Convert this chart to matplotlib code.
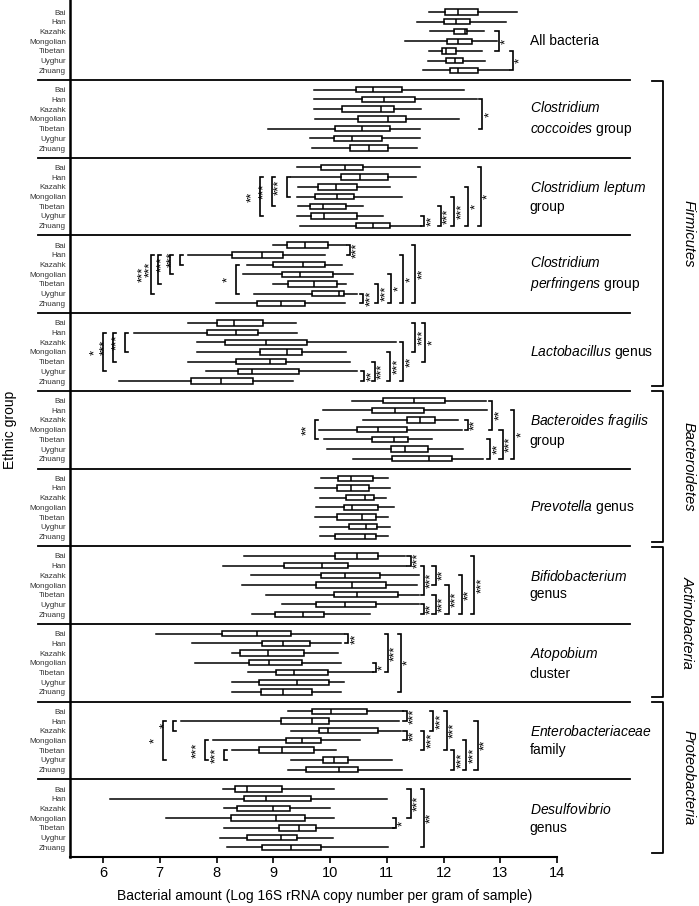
import matplotlib.pyplot as plt

plt.rcParams['font.family'] = 'Liberation Sans'
plt.rcParams['mathtext.fontset'] = 'custom'
plt.rcParams['mathtext.rm'] = 'Liberation Sans'
plt.rcParams['mathtext.it'] = 'Liberation Sans:italic'

ethnic = ['Bai', 'Han', 'Kazahk', 'Mongolian', 'Tibetan', 'Uyghur', 'Zhuang']

# (whisker low, q1, median, q3, whisker high) for each ethnic group
all_bacteria = [(11.74, 12.03, 12.26, 12.60, 13.29), (11.53, 12.00, 12.22, 12.46, 13.11),
                (11.76, 12.18, 12.38, 12.42, 12.72), (11.32, 12.07, 12.26, 12.50, 12.95),
                (11.74, 11.98, 12.04, 12.22, 12.68), (11.72, 12.05, 12.21, 12.34, 12.74),
                (11.64, 12.11, 12.26, 12.60, 13.16)]
c_coccoides = [(9.71, 10.46, 10.75, 11.27, 12.37), (9.71, 10.56, 10.96, 11.49, 12.59),
               (9.72, 10.21, 10.90, 11.13, 11.60), (9.74, 10.50, 11.03, 11.34, 12.28),
               (8.91, 10.09, 10.56, 11.05, 11.59), (9.65, 10.07, 10.38, 10.91, 11.58),
               (9.68, 10.35, 10.69, 11.02, 11.53)]
c_leptum = [(9.42, 9.85, 10.26, 10.58, 11.58), (9.32, 10.19, 10.52, 11.03, 11.52),
            (9.44, 9.78, 10.11, 10.48, 11.06), (9.41, 9.74, 10.13, 10.42, 11.26),
            (9.44, 9.64, 9.88, 10.28, 10.59), (9.42, 9.66, 9.89, 10.48, 10.93),
            (9.47, 10.46, 10.75, 11.05, 11.60)]
c_perfringens = [(9.00, 9.24, 9.56, 9.97, 10.28), (7.50, 8.27, 8.81, 9.18, 9.91),
                 (8.53, 9.00, 9.53, 9.92, 10.21), (8.46, 9.15, 9.48, 10.06, 10.41),
                 (9.00, 9.26, 9.72, 10.12, 10.29), (8.66, 9.68, 10.15, 10.24, 10.47),
                 (7.99, 8.72, 9.14, 9.56, 10.26)]
lactobacillus = [(7.50, 8.01, 8.31, 8.82, 9.40), (6.55, 7.84, 8.34, 8.74, 9.41),
                 (7.66, 8.15, 8.88, 9.60, 11.16), (7.66, 8.76, 9.24, 9.50, 10.28),
                 (7.50, 8.34, 8.94, 9.22, 10.35), (7.82, 8.38, 8.63, 9.46, 10.47),
                 (6.29, 7.55, 8.08, 8.64, 9.34)]
b_fragilis = [(10.39, 10.94, 11.48, 12.03, 12.75), (9.87, 10.74, 11.15, 11.66, 12.76),
              (10.59, 11.36, 11.59, 11.85, 12.25), (9.81, 10.47, 10.84, 11.36, 12.32),
              (9.89, 10.74, 11.13, 11.38, 11.79), (9.94, 11.08, 11.32, 11.72, 12.35),
              (10.41, 11.10, 11.75, 12.15, 12.69)]
prevotella = [(9.85, 10.14, 10.37, 10.75, 11.03), (9.74, 10.12, 10.37, 10.68, 11.05),
              (9.82, 10.28, 10.62, 10.78, 10.99), (9.75, 10.25, 10.39, 10.85, 11.12),
              (9.74, 10.12, 10.56, 10.81, 11.03), (9.82, 10.34, 10.64, 10.82, 11.05),
              (9.82, 10.09, 10.61, 10.81, 11.03)]
bifidobacterium = [(8.49, 10.08, 10.47, 10.85, 11.32), (8.12, 9.19, 9.86, 10.32, 11.34),
                   (8.61, 9.84, 10.26, 10.88, 11.56), (8.45, 9.75, 10.39, 10.98, 11.53),
                   (8.88, 10.07, 10.47, 11.19, 11.56), (9.16, 9.76, 10.26, 10.81, 11.56),
                   (8.63, 9.03, 9.53, 9.90, 10.71)]
atopobium = [(6.94, 8.10, 8.71, 9.31, 10.25), (7.57, 8.81, 9.18, 9.64, 10.19),
             (8.28, 8.41, 8.90, 9.55, 10.14), (7.62, 8.57, 8.93, 9.51, 10.19),
             (8.56, 9.04, 9.36, 9.97, 10.75), (8.28, 8.75, 9.41, 9.99, 10.25),
             (8.28, 8.79, 9.18, 9.69, 10.19)]
enterobacteriaceae = [(9.26, 9.68, 10.02, 10.66, 11.28), (7.38, 9.13, 9.68, 9.99, 11.22),
                      (9.32, 9.81, 9.96, 10.84, 11.25), (7.93, 9.22, 9.50, 9.84, 10.52),
                      (8.28, 8.75, 9.15, 9.72, 10.11), (9.32, 9.88, 10.07, 10.32, 11.09),
                      (9.26, 9.57, 10.15, 10.49, 11.26)]
desulfovibrio = [(8.12, 8.32, 8.54, 9.16, 10.07), (6.12, 8.48, 8.88, 9.66, 11.01),
                 (8.13, 8.36, 9.00, 9.29, 10.00), (7.11, 8.26, 9.05, 9.56, 10.07),
                 (8.13, 9.11, 9.45, 9.76, 11.12), (8.06, 8.53, 9.13, 9.41, 10.05),
                 (8.18, 8.81, 9.31, 9.85, 11.03)]

panel_data = [all_bacteria, c_coccoides, c_leptum, c_perfringens, lactobacillus,
              b_fragilis, prevotella, bifidobacterium, atopobium, enterobacteriaceae,
              desulfovibrio]

panel_labels = [
    'All bacteria',
    '$\\mathit{Clostridium}$\n$\\mathit{coccoides}$ group',
    '$\\mathit{Clostridium}$ $\\mathit{leptum}$\ngroup',
    '$\\mathit{Clostridium}$\n$\\mathit{perfringens}$ group',
    '$\\mathit{Lactobacillus}$ genus',
    '$\\mathit{Bacteroides}$ $\\mathit{fragilis}$\ngroup',
    '$\\mathit{Prevotella}$ genus',
    '$\\mathit{Bifidobacterium}$\ngenus',
    '$\\mathit{Atopobium}$\ncluster',
    '$\\mathit{Enterobacteriaceae}$\nfamily',
    '$\\mathit{Desulfovibrio}$\ngenus',
]

# significance brackets: (first row, last row, x, stars, side)
sig_all = [(3, 5, 12.97, '*', 'r'), (5, 7, 13.22, '*', 'r')]
sig_coccoides = [(2, 5, 12.68, '*', 'r')]
sig_leptum = [(2, 6, 8.76, '**', 'l'), (2, 5, 8.97, '***', 'l'), (2, 4, 9.24, '***', 'l'),
              (6, 7, 11.66, '**', 'r'), (5, 7, 11.95, '***', 'r'), (4, 7, 12.19, '***', 'r'),
              (3, 7, 12.44, '*', 'r'), (1, 7, 12.66, '*', 'r')]
sig_perfringens = [(1, 2, 10.35, '***', 'r'), (2, 6, 6.84, '***', 'l'), (2, 5, 6.97, '***', 'l'),
                   (2, 4, 7.18, '***', 'l'), (2, 3, 7.35, '***', 'l'), (3, 6, 8.35, '*', 'l'),
                   (6, 7, 10.59, '***', 'r'), (5, 7, 10.85, '***', 'r'), (4, 7, 11.08, '*', 'r'),
                   (2, 7, 11.29, '*', 'r'), (1, 7, 11.50, '**', 'r')]
sig_lacto = [(2, 6, 6.00, '*', 'l'), (2, 5, 6.17, '***', 'l'), (2, 4, 6.38, '***', 'l'),
             (1, 4, 11.50, '***', 'r'), (1, 5, 11.68, '*', 'r'), (6, 7, 10.60, '**', 'r'),
             (5, 7, 10.79, '***', 'r'), (4, 7, 11.06, '***', 'r'), (3, 7, 11.29, '**', 'r')]
sig_fragilis = [(1, 4, 12.86, '**', 'r'), (3, 4, 12.43, '**', 'r'), (3, 5, 9.74, '**', 'l'),
                (5, 7, 12.82, '**', 'r'), (4, 7, 13.04, '***', 'r'), (2, 7, 13.25, '*', 'r')]
sig_prevotella = []
sig_bifido = [(1, 2, 11.42, '***', 'r'), (2, 5, 11.65, '***', 'r'), (2, 4, 11.86, '**', 'r'),
              (6, 7, 11.65, '**', 'r'), (5, 7, 11.86, '***', 'r'), (4, 7, 12.09, '***', 'r'),
              (3, 7, 12.32, '**', 'r'), (1, 7, 12.54, '***', 'r')]
sig_atopobium = [(1, 2, 10.32, '**', 'r'), (4, 5, 10.81, '*', 'r'), (1, 5, 11.02, '***', 'r'),
                 (1, 7, 11.25, '*', 'r')]
sig_entero = [(2, 3, 7.24, '*', 'l'), (2, 6, 7.05, '*', 'l'), (4, 6, 7.79, '***', 'l'),
              (5, 6, 8.13, '***', 'l'), (1, 2, 11.35, '***', 'r'), (3, 4, 11.35, '**', 'r'),
              (3, 5, 11.66, '***', 'r'), (1, 3, 11.82, '***', 'r'), (1, 5, 12.06, '***', 'r'),
              (5, 7, 12.19, '***', 'r'), (4, 7, 12.40, '***', 'r'), (2, 7, 12.60, '**', 'r')]
sig_desulfo = [(4, 5, 11.16, '*', 'r'), (1, 4, 11.42, '***', 'r'), (1, 7, 11.65, '**', 'r')]

panel_sigs = [sig_all, sig_coccoides, sig_leptum, sig_perfringens, sig_lacto, sig_fragilis,
              sig_prevotella, sig_bifido, sig_atopobium, sig_entero, sig_desulfo]

phyla = ['Firmicutes', 'Bacteroidetes', 'Actinobacteria', 'Proteobacteria']
phylum_panels = [(1, 4), (5, 6), (7, 8), (9, 10)]

fig = plt.figure(figsize=(6.99, 9.06), dpi=100)
ax = fig.add_axes([70 / 699, 1 - 857 / 906, 487 / 699, 857 / 906])

ticks = []
for k, vals in enumerate(panel_data):
    pos = [8 * k + i + 1 for i in range(7)]
    ticks += pos
    stats = [dict(whislo=v[0], q1=v[1], med=v[2], q3=v[3], whishi=v[4]) for v in vals]
    ax.bxp(stats, positions=pos, widths=0.55, orientation='horizontal',
           showfliers=False, showcaps=False, patch_artist=True, manage_ticks=False,
           boxprops=dict(facecolor='white', edgecolor='black', linewidth=1.1),
           whiskerprops=dict(color='black', linewidth=1.1),
           medianprops=dict(color='black', linewidth=1.1))

    # bracket + stars
    for r0, r1, x, stars, side in panel_sigs[k]:
        y0, y1 = 8 * k + r0, 8 * k + r1
        t = 0.055 if side == 'r' else -0.055
        ax.plot([x - t, x, x, x - t], [y0, y0, y1, y1], color='black', lw=1.2,
                clip_on=False, solid_joinstyle='miter')
        if side == 'r':
            ax.text(x + 0.03, (y0 + y1) / 2, stars, rotation=90, ha='left', va='center', fontsize=9.5)
        else:
            ax.text(x - 0.03, (y0 + y1) / 2, stars, rotation=90, ha='right', va='center', fontsize=9.5)

    ax.text(13.52, 8 * k + 4, panel_labels[k], ha='left', va='center', fontsize=10,
            linespacing=1.35, clip_on=False)

    if k > 0:
        ax.plot([4.855, 15.286], [8 * k, 8 * k], color='black', lw=1.3, clip_on=False)

for name, (a, b) in zip(phyla, phylum_panels):
    y0 = 8 * a + 0.05
    y1 = 8 * (b + 1) - 0.45
    ax.plot([15.674, 15.868, 15.868, 15.674], [y0, y0, y1, y1], color='black', lw=1.3,
            clip_on=False)
    ax.text(16.31, (y0 + y1) / 2, name, rotation=-90, style='italic', ha='center',
            va='center', fontsize=10.5, clip_on=False)

ax.set_xlim(5.4185, 14)
ax.set_ylim(88, -0.24)
ax.set_xticks(range(6, 15))
ax.tick_params(axis='x', labelsize=10.5, length=4.5, width=1.2, direction='out', pad=2)
ax.set_yticks(ticks)
ax.set_yticklabels(ethnic * len(panel_data), fontsize=5.8, color='#333333')
ax.tick_params(axis='y', length=0, pad=3)
for s in ['top', 'right']:
    ax.spines[s].set_visible(False)
ax.spines['left'].set_linewidth(1.8)
ax.spines['bottom'].set_linewidth(1.5)

fig.text(324.5 / 699, 1 - 896 / 906, 'Bacterial amount (Log 16S rRNA copy number per gram of sample)',
         ha='center', va='center', fontsize=10)
fig.text(10 / 699, 1 - 430 / 906, 'Ethnic group', rotation=90, ha='center', va='center', fontsize=10)

fig.savefig('out.png', dpi=100)
